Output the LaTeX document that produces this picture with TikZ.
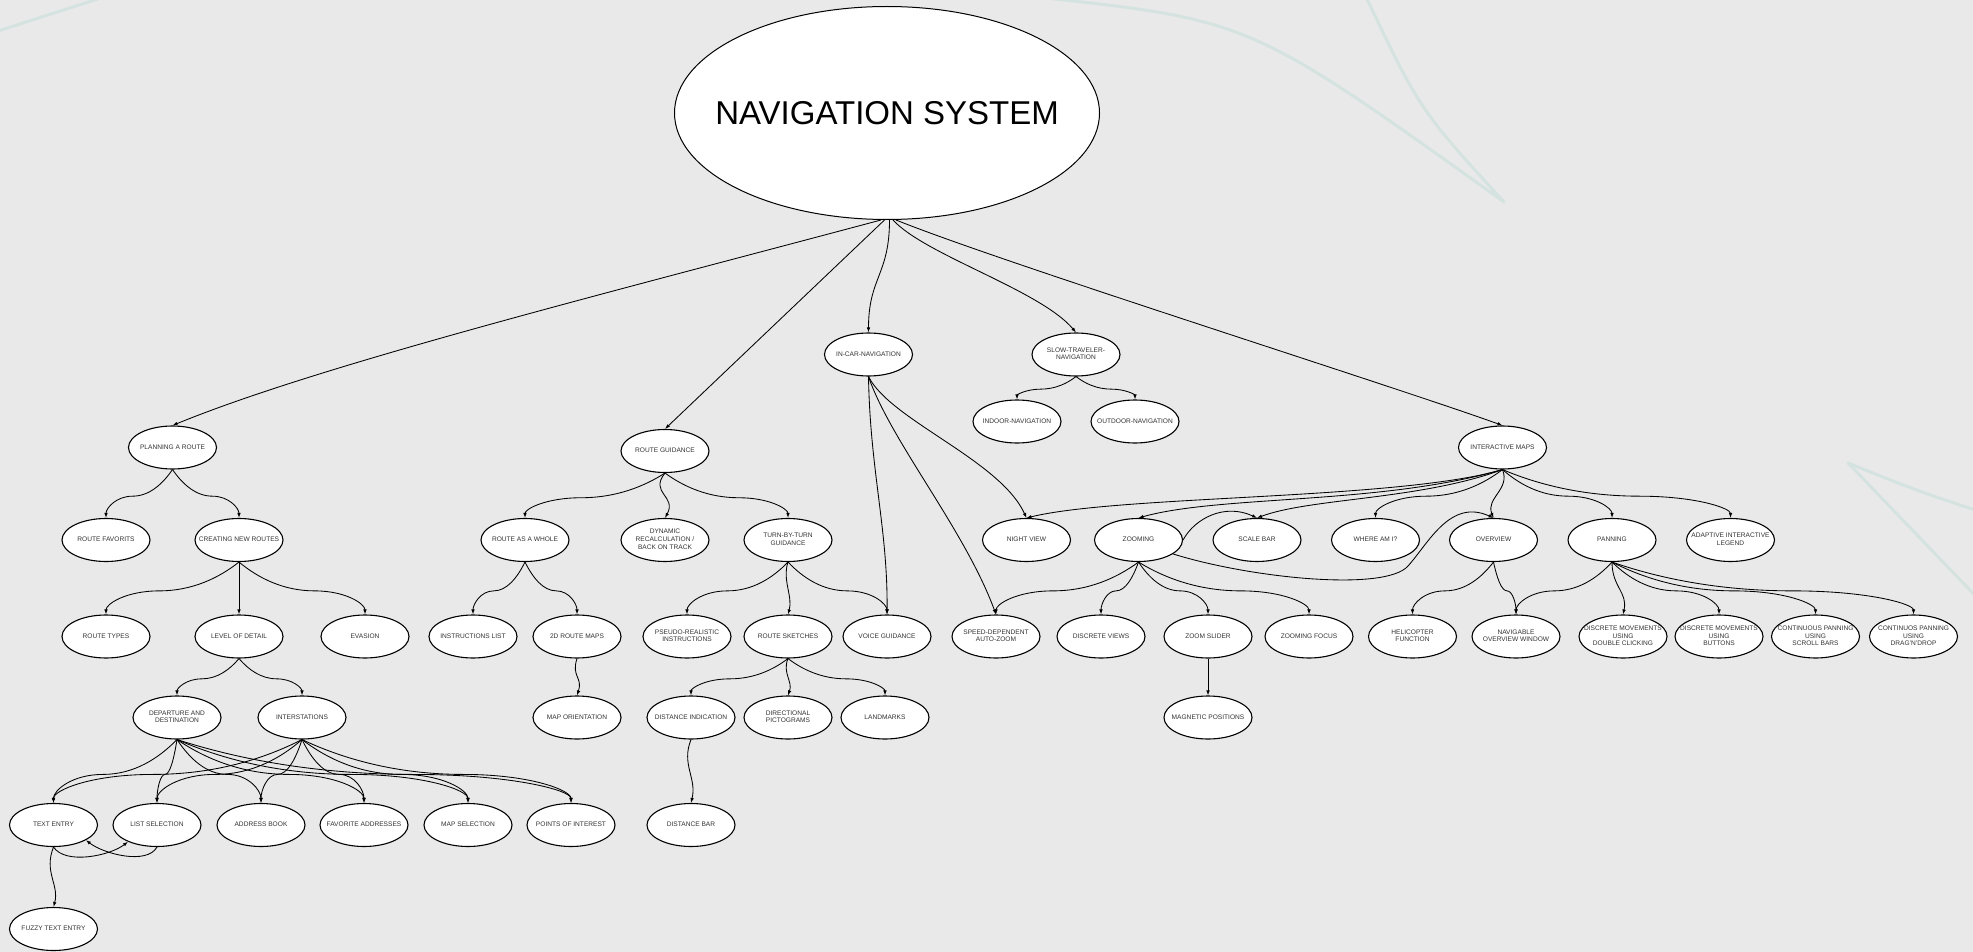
\documentclass[tikz,border=0pt]{standalone}
\usepackage{fontspec}
\setmainfont{Liberation Sans}
\usetikzlibrary{arrows.meta,shapes.geometric,calc}

\definecolor{bgc}{RGB}{233,233,233}
\definecolor{deco}{RGB}{213,227,224}
\definecolor{txt}{RGB}{50,50,50}

% zero-size, vertically centred label so the ellipse keeps its fixed size
\newcommand\nt[1]{\makebox[0pt]{\raisebox{\dimexpr(\depth-\height)/2\relax}[0pt][0pt]{\begin{tabular}{@{}c@{}}#1\end{tabular}}}}

\tikzset{
  topic/.style={ellipse, draw=black, line width=1.1pt, fill=white,
    minimum width=88pt, minimum height=43pt, inner sep=0pt,
    text=txt, font=\fontsize{6.6}{7.8}\selectfont},
  rootnode/.style={ellipse, draw=black, line width=1pt, fill=white,
    minimum width=425pt, minimum height=213pt, inner sep=0pt,
    text=black, font=\fontsize{33}{36}\selectfont},
  edge/.style={draw=black, line width=0.85pt, -{Latex[length=5pt,width=3.6pt]}},
  decoline/.style={draw=deco, line width=3pt, line cap=round, line join=round},
  % S-shaped spline: diagonal start, flat middle, vertical arrival
  wig/.style={to path={let \p1=(\tikztostart), \p2=(\tikztotarget) in
    .. controls ({\x1+0.15*((\x2)-(\x1))},{\y1+0.3*((\y2)-(\y1))})
            and ({\x1+0.35*((\x2)-(\x1))},{\y1+0.55*((\y2)-(\y1))})
    .. ({\x1+0.6*((\x2)-(\x1))},{\y1+0.55*((\y2)-(\y1))})
    .. controls ({\x1+0.85*((\x2)-(\x1))},{\y1+0.55*((\y2)-(\y1))})
            and (\x2,{\y1+0.8*((\y2)-(\y1))})
    .. (\tikztotarget)}},
}

\begin{document}
\begin{tikzpicture}[x=1pt,y=-1pt]
\fill[bgc] (0,0) rectangle (1973,952);
\useasboundingbox (0,0) rectangle (1973,952);

% faint background strokes
\begin{scope}
\clip (0,0) rectangle (1973,952);
\draw[decoline] (-5,32) -- (104,-3);
\draw[decoline] (1036,-3) .. controls (1250,20) .. (1504,202) .. controls (1420,110) .. (1366,-3);
\draw[decoline] (1990,515) .. controls (1915,490) .. (1848,463) -- (1990,611);
\end{scope}

% root
\node[rootnode] (nav) at (887,113) {\makebox[0pt]{\raisebox{-0.5\height}[0pt][0pt]{NAVIGATION SYSTEM}}};

% first level
\node[topic] (plan)    at (172.5,447.5) {\nt{PLANNING A ROUTE}};
\node[topic] (rg)      at (665,451)     {\nt{ROUTE GUIDANCE}};
\node[topic] (ic)      at (868.5,354.5) {\nt{IN-CAR-NAVIGATION}};
\node[topic] (slow)    at (1076,354.5)  {\nt{SLOW-TRAVELER-\\NAVIGATION}};
\node[topic] (indoor)  at (1017,421.5)  {\nt{INDOOR-NAVIGATION}};
\node[topic] (outdoor) at (1135,421.5)  {\nt{OUTDOOR-NAVIGATION}};
\node[topic] (im)      at (1502.5,447.5){\nt{INTERACTIVE MAPS}};

% row at 540
\node[topic] (rf)   at (106,540)    {\nt{ROUTE FAVORITS}};
\node[topic] (cnr)  at (239,540)    {\nt{CREATING NEW ROUTES}};
\node[topic] (raw)  at (525,540)    {\nt{ROUTE AS A WHOLE}};
\node[topic] (dyn)  at (665,540)    {\nt{DYNAMIC\\RECALCULATION /\\BACK ON TRACK}};
\node[topic] (tbt)  at (788,540)    {\nt{TURN-BY-TURN\\GUIDANCE}};
\node[topic] (nv)   at (1026.5,540) {\nt{NIGHT VIEW}};
\node[topic] (zm)   at (1138.5,540) {\nt{ZOOMING}};
\node[topic] (sb)   at (1257,540)   {\nt{SCALE BAR}};
\node[topic] (wai)  at (1375.5,540) {\nt{WHERE AM I?}};
\node[topic] (ov)   at (1493.5,540) {\nt{OVERVIEW}};
\node[topic] (pan)  at (1612,540)   {\nt{PANNING}};
\node[topic] (ail)  at (1730.5,540) {\nt{ADAPTIVE INTERACTIVE\\LEGEND}};

% row at 636.5
\node[topic] (rt)   at (106,636.5)    {\nt{ROUTE TYPES}};
\node[topic] (lod)  at (239,636.5)    {\nt{LEVEL OF DETAIL}};
\node[topic] (ev)   at (365,636.5)    {\nt{EVASION}};
\node[topic] (il)   at (473,636.5)    {\nt{INSTRUCTIONS LIST}};
\node[topic] (rmd)  at (577,636.5)    {\nt{2D ROUTE MAPS}};
\node[topic] (pri)  at (687,636.5)    {\nt{PSEUDO-REALISTIC\\INSTRUCTIONS}};
\node[topic] (rs)   at (788,636.5)    {\nt{ROUTE SKETCHES}};
\node[topic] (vg)   at (887,636.5)    {\nt{VOICE GUIDANCE}};
\node[topic] (sdaz) at (996,636.5)    {\nt{SPEED-DEPENDENT\\AUTO-ZOOM}};
\node[topic] (dv)   at (1101,636.5)   {\nt{DISCRETE VIEWS}};
\node[topic] (zs)   at (1208,636.5)   {\nt{ZOOM SLIDER}};
\node[topic] (zf)   at (1309,636.5)   {\nt{ZOOMING FOCUS}};
\node[topic] (heli) at (1412.5,636.5) {\nt{HELICOPTER\\FUNCTION}};
\node[topic] (now)  at (1516,636.5)   {\nt{NAVIGABLE\\OVERVIEW WINDOW}};
\node[topic] (dmdc) at (1623,636.5)   {\nt{DISCRETE MOVEMENTS\\USING\\DOUBLE CLICKING}};
\node[topic] (dmb)  at (1719,636.5)   {\nt{DISCRETE MOVEMENTS\\USING\\BUTTONS}};
\node[topic] (cpsb) at (1815.5,636.5) {\nt{CONTINUOUS PANNING\\USING\\SCROLL BARS}};
\node[topic] (cpdd) at (1913.5,636.5) {\nt{CONTINUOS PANNING\\USING\\DRAG'N'DROP}};

% row at 717.5
\node[topic] (dd)    at (177,717.5)  {\nt{DEPARTURE AND\\DESTINATION}};
\node[topic] (inter) at (302,717.5)  {\nt{INTERSTATIONS}};
\node[topic] (mo)    at (577,717.5)  {\nt{MAP ORIENTATION}};
\node[topic] (di)    at (691,717.5)  {\nt{DISTANCE INDICATION}};
\node[topic] (dp)    at (788,717.5)  {\nt{DIRECTIONAL\\PICTOGRAMS}};
\node[topic] (lm)    at (885,717.5)  {\nt{LANDMARKS}};
\node[topic] (mp)    at (1208,717.5) {\nt{MAGNETIC POSITIONS}};

% row at 825
\node[topic] (te)  at (53.5,825) {\nt{TEXT ENTRY}};
\node[topic] (ls)  at (157,825)  {\nt{LIST SELECTION}};
\node[topic] (ab)  at (261,825)  {\nt{ADDRESS BOOK}};
\node[topic] (fa)  at (364,825)  {\nt{FAVORITE ADDRESSES}};
\node[topic] (ms)  at (468,825)  {\nt{MAP SELECTION}};
\node[topic] (poi) at (571,825)  {\nt{POINTS OF INTEREST}};
\node[topic] (db)  at (691,825)  {\nt{DISTANCE BAR}};

\node[topic] (fte) at (53.5,929) {\nt{FUZZY TEXT ENTRY}};

% ---- connectors ----
% from the root
\draw[edge] ([xshift=-6pt]nav.south) .. controls (600,295) and (320,365) .. (plan.north);
\draw[edge] ([xshift=-2.5pt]nav.south) -- (rg.north);
\draw[edge] ([xshift=2.5pt]nav.south) .. controls +(0,55) and +(0,-55) .. (ic.north);
\draw[edge] ([xshift=6pt]nav.south) .. controls (925,255) and (1040,290) .. (slow.north);
\draw[edge] ([xshift=9pt]nav.south) .. controls (1000,262) and (1390,385) .. (im.north);

% planning a route
\draw[edge] (plan.south) to[wig] (rf.north);
\draw[edge] (plan.south) to[wig] (cnr.north);
\draw[edge] (cnr.south) to[wig] (rt.north);
\draw[edge] (cnr.south) -- (lod.north);
\draw[edge] (cnr.south) to[wig] (ev.north);
\draw[edge] (lod.south) to[wig] (dd.north);
\draw[edge] (lod.south) to[wig] (inter.north);
\foreach \t in {te,ls,ab,fa,ms,poi}{
  \draw[edge] (dd.south) to[wig] (\t.north);
  \draw[edge] (inter.south) to[wig] (\t.north);
}
\draw[edge] (te.south) .. controls +(12,18) and +(-18,14) .. (ls.-150);
\draw[edge] (ls.south) .. controls +(-10,18) and +(18,14) .. (te.-25);
\draw[edge] (te.south) .. controls +(-10,25) and +(6,-22) .. (fte.north);

% route guidance
\draw[edge] (rg.south) to[wig] (raw.north);
\draw[edge] (rg.south) .. controls +(-16,20) and +(12,-22) .. (dyn.north);
\draw[edge] (rg.south) to[wig] (tbt.north);
\draw[edge] (raw.south) to[wig] (il.north);
\draw[edge] (raw.south) to[wig] (rmd.north);
\draw[edge] (rmd.south) .. controls +(-6,18) and +(6,-18) .. (mo.north);
\draw[edge] (tbt.south) to[wig] (pri.north);
\draw[edge] (tbt.south) .. controls +(-6,18) and +(5,-18) .. (rs.north);
\draw[edge] (tbt.south) to[wig] (vg.north);
\draw[edge] (rs.south) to[wig] (di.north);
\draw[edge] (rs.south) .. controls +(-6,14) and +(5,-14) .. (dp.north);
\draw[edge] (rs.south) to[wig] (lm.north);
\draw[edge] (di.south) .. controls +(-10,25) and +(6,-25) .. (db.north);

% in-car navigation
\draw[edge] (ic.south) .. controls (870,470) and (888,530) .. (vg.north);
\draw[edge] (ic.south) .. controls (890,440) and (965,530) .. (sdaz.north);
\draw[edge] (ic.south) .. controls (890,420) and (1000,460) .. (nv.north);

% slow-traveler navigation
\draw[edge] (slow.south) to[wig] (indoor.north);
\draw[edge] (slow.south) to[wig] (outdoor.north);

% interactive maps
\draw[edge] (im.south) .. controls (1400,500) and (1120,495) .. (nv.north);
\draw[edge] (im.south) .. controls (1380,505) and (1220,495) .. (zm.north);
\draw[edge] (im.south) .. controls (1420,500) and (1310,498) .. (sb.north);
\draw[edge] (im.south) to[wig] (wai.north);
\draw[edge] (im.south) .. controls +(8,20) and +(-8,-20) .. (ov.north);
\draw[edge] (im.south) to[wig] (pan.north);
\draw[edge] (im.south) to[wig] (ail.north);

% zooming
\draw[edge] (zm.south) to[wig] (sdaz.north);
\draw[edge] (zm.south) to[wig] (dv.north);
\draw[edge] (zm.south) to[wig] (zs.north);
\draw[edge] (zm.south) to[wig] (zf.north);
\draw[edge] (zm.east) .. controls (1195,518) and (1225,503) .. (sb.north);
\draw[edge] (zm.-22) .. controls (1250,578) and (1385,592) .. (1408,566)
                     .. controls (1428,544) and (1450,498) .. (ov.north);
\draw[edge] (zs.south) -- (mp.north);

% overview and panning
\draw[edge] (ov.south) to[wig] (heli.north);
\draw[edge] (ov.south) to[wig] (now.north);
\draw[edge] (pan.south) to[wig] (now.north);
\draw[edge] (pan.south) .. controls +(0,25) and +(5,-22) .. (dmdc.north);
\draw[edge] (pan.south) to[wig] (dmb.north);
\draw[edge] (pan.south) to[wig] (cpsb.north);
\draw[edge] (pan.south) to[wig] (cpdd.north);
\end{tikzpicture}
\end{document}
